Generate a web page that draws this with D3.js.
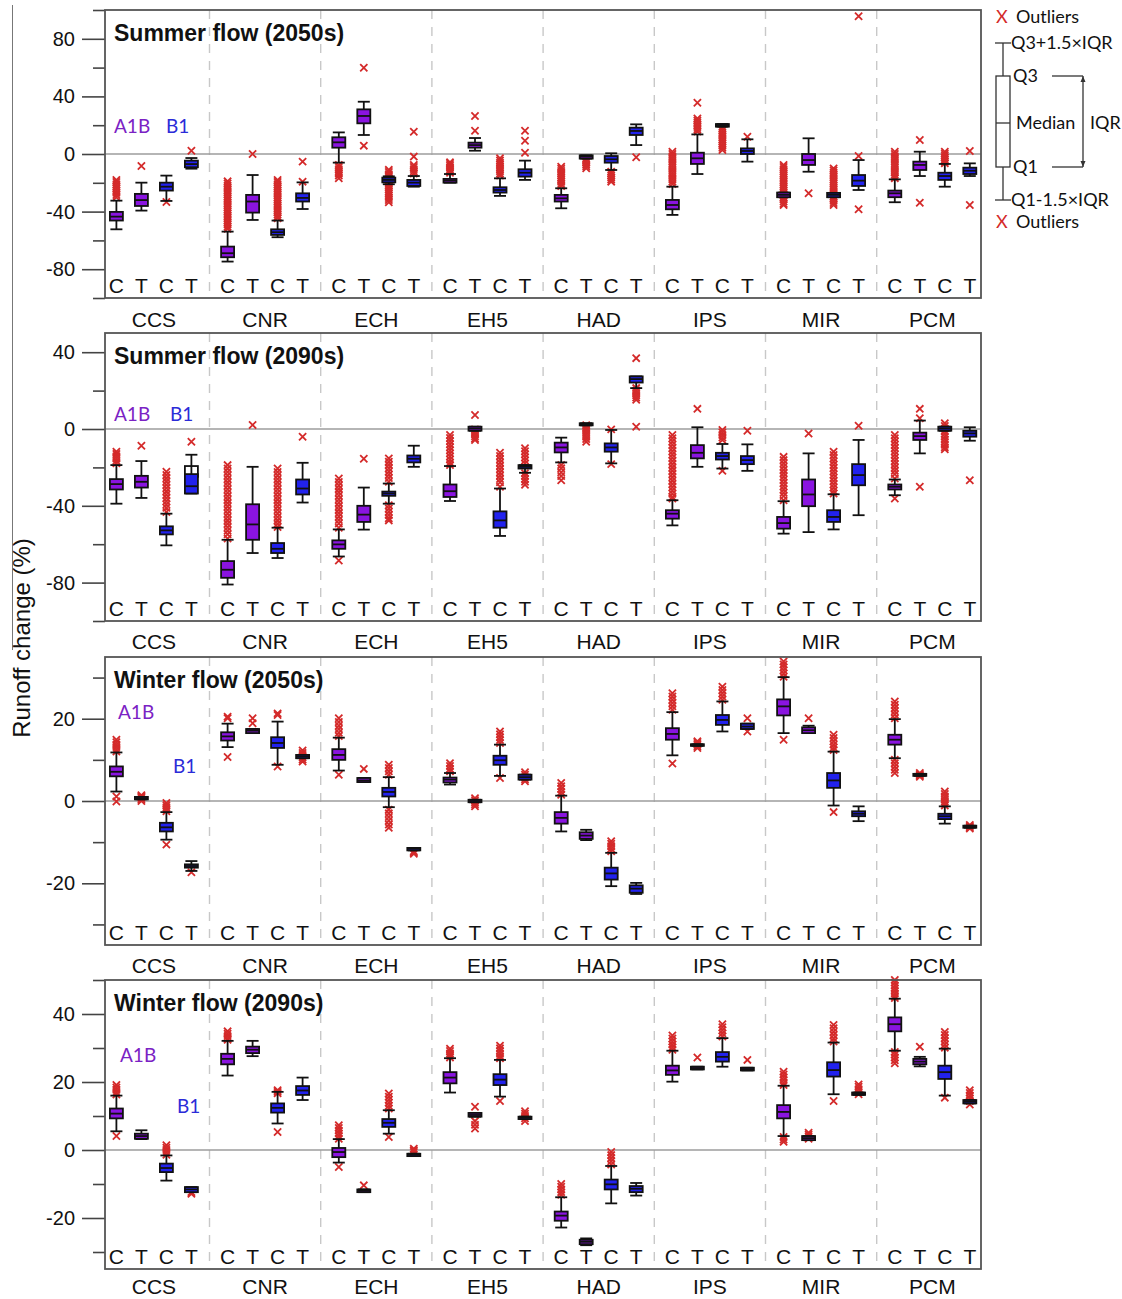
<!DOCTYPE html>
<html>
<head>
<meta charset="utf-8">
<script src="https://cdn.jsdelivr.net/npm/d3@7"></script>
<style>
  html, body { margin: 0; padding: 0; background: #fff; }
  svg { display: block; }
</style>
</head>
<body>
<svg id="chart" width="1122" height="1299"></svg>
<script>
// Climate models, slot letters (C / T) and emission scenario of each slot
const groups = ["CCS", "CNR", "ECH", "EH5", "HAD", "IPS", "MIR", "PCM"];
const slotLetters = ["C", "T", "C", "T"];
const slotScenario = ["A1B", "A1B", "B1", "B1"];

// Box statistics per slot: [lower whisker, Q1, median, Q3, upper whisker]
const summer2050Stats = [
  [-52.3,-46.2,-43.5,-40.2,-32.4], [-39.3,-36.1,-32.0,-27.7,-19.9], [-32.6,-25.4,-22.7,-19.9,-15.0], [-10.2,-9.2,-7.0,-4.6,-2.8],
  [-74.7,-71.7,-68.9,-64.3,-53.9], [-45.8,-40.7,-33.0,-28.4,-14.6], [-57.8,-56.2,-54.3,-52.3,-46.2], [-38.2,-33.0,-30.5,-27.3,-19.7],
  [-6.0,4.4,8.1,11.6,15.0], [13.2,21.3,26.4,31.0,36.3], [-21.0,-19.7,-18.0,-16.4,-15.5], [-22.7,-22.2,-19.9,-18.0,-15.3],
  [-19.9,-19.9,-18.5,-17.3,-13.9], [2.3,4.4,6.2,7.9,11.1], [-29.1,-26.8,-25.0,-23.1,-16.9], [-18.0,-15.7,-13.0,-10.6,-4.6],
  [-37.7,-33.0,-30.8,-28.4,-23.8], [-3.2,-3.2,-1.8,-0.9,-0.9], [-11.1,-6.0,-3.7,-1.4,0.5], [6.2,13.2,16.0,18.3,20.6],
  [-42.3,-38.4,-35.4,-31.9,-22.7], [-13.9,-6.9,-3.0,0.9,13.6], [19.0,19.0,19.9,20.8,20.8], [-5.3,0.0,2.1,3.9,10.2],
  [-30.0,-30.0,-28.4,-26.8,-26.8], [-12.3,-7.6,-4.2,0.0,10.9], [-30.0,-30.0,-28.4,-27.0,-27.0], [-25.0,-22.2,-18.5,-14.6,-4.2],
  [-33.5,-30.0,-27.3,-25.4,-17.6], [-15.3,-11.1,-7.6,-5.3,1.6], [-22.7,-18.0,-15.3,-13.0,-6.9], [-15.3,-13.9,-11.6,-9.5,-6.5]
];
const summer2050Outliers = [
  [-18,-19.5,-21,-22.5,-24,-25.5,-27,-28.5,-30], [-8.3], [-33.3], [2.3],
  [-19,-20.5,-22,-23.5,-25,-26.5,-28,-29.5,-31,-32.5,-34,-35.5,-37,-38.5,-40,-41.5,-43,-44.5,-46,-47.5,-49,-50.5,-52],
  [0],
  [-18,-19.5,-21,-22.5,-24,-25.5,-27,-28.5,-30,-31.5,-33,-34.5,-36,-37.5,-39,-40.5,-42,-43.5,-44.6],
  [-5.3,-19.2],
  [-7.6,-9,-10.5,-12,-13.5,-15,-16.9], [59.9,5.8],
  [-11,-12.5,-14,-15.5,-17,-18.5,-20,-21.5,-23,-24.5,-26,-27.5,-29,-30.5,-32,-33.5],
  [15.5,-1.8,-7.6,-9,-10.5,-12,-13.5],
  [-5.8,-7,-8.2,-9.4,-10.6,-11.8,-13], [26.4,16.2], [-3,-4.5,-6,-7.5,-9,-10.5,-12,-13.5,-15], [16.2,9.2,0.9],
  [-8.8,-10.3,-11.8,-13.3,-14.8,-16.3,-17.8,-19.3,-20.8,-22.3], [-3.7,-4.9,-6.1,-7.3,-8.5,-9.9], [-12.3,-13.6,-15,-16.4,-17.8,-19.2], [-2.3],
  [1.6,0,-1.6,-3.2,-4.8,-6.4,-8,-9.6,-11.2,-12.8,-14.4,-16,-17.6,-19.2,-20.8],
  [35.6,24.7,23.2,21.7,20.2,18.7,17.2,15.7],
  [17.8,16.3,14.8,13.3,11.8,10.3,8.8,7.3,5.8,4.3,2.8],
  [12],
  [-7.6,-9,-10.5,-12,-13.5,-15,-16.5,-18,-19.5,-21,-22.5,-24,-25.5,-27,-28.5,-30,-31.5,-33,-34.5,-35.4],
  [-27.3],
  [-10,-11.5,-13,-14.5,-16,-17.5,-19,-20.5,-22,-23.5,-25,-26.5,-28,-29.5,-31,-32.5,-34,-35.4],
  [95.7,-1.4,-38.4],
  [1.6,0,-1.6,-3.2,-4.8,-6.4,-8,-9.6,-11.2,-12.8,-14.4,-16,-16.9],
  [9.7,-33.8], [1.6,0.2,-1.2,-2.6,-4,-5.4,-6.5], [2.1,-35.4]
];

const summer2090Stats = [
  [-38.9,-31.5,-28.7,-26.1,-18.8], [-35.9,-30.5,-27.5,-24.4,-16.7], [-60.6,-54.9,-52.8,-50.7,-44.1], [-33.6,-33.6,-29.8,-23.5,-13.4],
  [-81.0,-77.5,-73.3,-68.8,-57.7], [-64.6,-57.7,-49.7,-39.2,-19.7], [-67.2,-64.6,-62.4,-59.4,-51.4], [-38.3,-34.1,-31.0,-26.3,-17.6],
  [-66.4,-62.4,-60.1,-58.0,-52.3], [-52.4,-48.4,-44.6,-40.0,-30.5], [-38.9,-34.8,-33.6,-32.6,-28.4], [-19.7,-17.4,-15.5,-13.8,-8.7],
  [-37.5,-35.4,-32.4,-28.9,-19.3], [-0.9,-0.9,0.2,1.2,1.2], [-55.7,-51.4,-47.6,-42.9,-31.0], [-22.8,-20.6,-19.7,-18.8,-18.8],
  [-17.4,-12.2,-9.6,-7.1,-4.5], [1.9,1.9,2.4,3.0,3.0], [-17.9,-11.8,-9.6,-7.5,-0.5], [21.3,24.2,26.0,27.4,27.4],
  [-50.2,-46.7,-44.1,-42.3,-37.1], [-19.7,-15.3,-12.4,-8.4,0.9], [-20.6,-15.9,-14.1,-12.4,-7.8], [-21.8,-18.3,-16.2,-14.1,-8.0],
  [-54.5,-51.9,-49.0,-45.8,-37.6], [-53.7,-40.2,-34.1,-26.3,-12.7], [-52.3,-48.4,-45.8,-42.3,-34.0], [-44.9,-29.3,-24.0,-18.3,-5.7],
  [-34.5,-31.5,-30.1,-28.9,-26.3], [-12.7,-5.7,-3.7,-1.9,4.4], [-0.9,-0.9,0.2,1.2,1.2], [-6.1,-4.0,-2.3,-0.9,0.9]
];
const summer2090Outliers = [
  [-11.8,-13,-14.2,-15.4,-16.6,-17.9], [-8.7],
  [-22.3,-24,-25.7,-27.4,-29.1,-30.8,-32.5,-34.2,-35.9,-37.6,-39.3,-41,-43.2],
  [-6.6],
  [-18.8,-20.6,-22.4,-24.2,-26,-27.8,-29.6,-31.4,-33.2,-35,-36.8,-38.6,-40.4,-42.2,-44,-45.8,-47.6,-49.4,-51.2,-53,-54.8,-57],
  [2.1],
  [-20.6,-22.4,-24.2,-26,-27.8,-29.6,-31.4,-33.2,-35,-36.8,-38.6,-40.4,-42.2,-44,-45.8,-47.6,-49.4,-51],
  [-4],
  [-25.8,-27.6,-29.4,-31.2,-33,-34.8,-36.6,-38.4,-40.2,-42,-43.8,-45.6,-47.4,-49.2,-51.4,-68.5],
  [-15.5],
  [-15.3,-17,-18.7,-20.4,-22.1,-23.8,-25.5,-27.5,-39.7,-41.4,-43.1,-44.8,-46.5,-47.6],
  [],
  [-3.1,-4.7,-6.3,-7.9,-9.5,-11.1,-12.7,-14.3,-15.9,-17.5,-18.8],
  [7.3,-0.2,-1.4,-2.6,-3.8,-5,-5.7],
  [-12.4,-14.1,-15.8,-17.5,-19.2,-20.9,-22.6,-24.3,-26,-27.7,-30.1],
  [-10,-11.6,-13.2,-14.8,-16.4,-18,-23,-24.5,-26,-27.5,-29],
  [-18.8,-20.5,-22.5,-24.5,-26.7], [2,0.8,-0.4,-1.6,-2.8,-4,-5.2,-6.6], [-0.2,-18.3], [36.9,21.3,20,18.8,17.6,16.4,15.2,1.2],
  [-3.1,-4.8,-6.5,-8.2,-9.9,-11.6,-13.3,-15,-16.7,-18.4,-20.1,-21.8,-23.5,-25.2,-26.9,-28.6,-30.3,-32,-33.7,-35.4,-36.2],
  [10.5], [-0.5,-1.8,-3.1,-4.4,-5.7,-21.8], [-0.9],
  [-14.5,-16.2,-17.9,-19.6,-21.3,-23,-24.7,-26.4,-28.1,-29.8,-31.5,-33.2,-34.9,-37.1],
  [-2.3],
  [-11.8,-13.5,-15.2,-16.9,-18.6,-20.3,-22,-23.7,-25.4,-27.1,-28.8,-30.5,-32.2,-33.6],
  [1.7],
  [-3.1,-4.8,-6.5,-8.2,-9.9,-11.6,-13.3,-15,-16.7,-18.4,-20.1,-21.8,-23.5,-25.8,-36.2],
  [10.5,5.6,-30.1], [3,1.6,0.2,-1.2,-2.6,-4,-5.4,-6.8,-8.2,-9.5,-10.6], [-26.7]
];
// Unfilled box drawn behind one slot: [slot index, lower edge, upper edge]
const summer2090Hollow = [[3, -24.9, -19.3]];

const winter2050Stats = [
  [2.3,6.0,7.1,8.4,11.8], [0.4,0.4,0.7,1.0,1.0], [-9.4,-7.4,-6.4,-5.3,-2.7], [-17.0,-16.2,-15.8,-15.4,-14.6],
  [13.1,14.7,15.7,16.7,18.8], [16.5,16.5,17.1,17.5,17.5], [8.8,12.9,14.1,15.5,19.3], [10.4,10.4,10.8,11.2,11.2],
  [7.4,10.0,11.2,12.6,15.4], [4.6,4.6,5.0,5.6,5.6], [-1.5,1.1,2.2,3.2,5.8], [-12.0,-12.0,-11.6,-11.4,-11.4],
  [4.0,4.5,5.2,5.7,6.8], [-0.3,-0.3,0.0,0.3,0.3], [6.1,8.8,9.9,11.0,13.7], [5.2,5.2,5.8,6.4,6.4],
  [-7.4,-5.5,-4.1,-2.7,1.3], [-9.5,-9.2,-8.4,-7.6,-7.0], [-20.7,-19.1,-17.6,-16.2,-12.6], [-22.6,-22.3,-21.3,-20.5,-19.9],
  [11.1,14.9,16.3,17.7,21.6], [13.4,13.4,13.6,13.8,13.8], [16.9,18.5,19.7,20.9,24.2], [17.5,17.5,18.1,18.8,18.8],
  [16.5,20.8,23.0,24.7,30.1], [16.5,16.5,17.2,17.9,18.3], [-1.1,3.2,5.0,6.8,12.0], [-4.9,-3.7,-3.1,-2.5,-1.3],
  [10.4,13.7,14.9,16.1,19.9], [6.1,6.1,6.4,6.6,6.6], [-5.5,-4.4,-3.7,-3.1,-1.3], [-6.5,-6.5,-6.3,-6.0,-6.0]
];
const winter2050Outliers = [
  [14.9,14.3,13.7,13.1,12.5,12,1.1,-0.1], [1.4,1.1,0.8,0.4,0], [-0.5,-1,-1.5,-2,-2.5,-10.6], [-17.3],
  [20.5,20.1,10.7], [20.1,18.9], [21.3,20.9,8.4], [12.3,11.7,11.2,10.6,10.1,9.6],
  [20.1,19.2,18.3,17.5,16.6,15.8,6.4], [7.8], [8.8,8,7.2,6.4,-2.1,-3,-3.9,-4.8,-5.7,-6.5], [-12.2,-12.5,-12.8],
  [9.2,8.5,7.8,7.2], [0.7,0.2,-0.3,-0.8,-1.3], [16.9,16.2,15.5,14.8,14.1,5.6], [7,6.4,5.8,5.3,4.8],
  [4.4,3.6,2.9,2.2,1.5], [], [-9.8,-10.4,-11,-11.6,-12.2], [],
  [26.2,25.4,24.6,23.8,23,22.2,9.1], [14.5,14.1,13.7,13.3,12.9], [27.8,27,26.2,25.4,24.6], [20.1,16.9],
  [33.9,33.2,32.5,31.8,31,30.2,14.9], [20.1], [16.1,15.3,14.5,13.7,13,12.4,-2.7], [],
  [24.2,23.4,22.6,21.8,21,20.1,10,9.2,8.4,7.6,6.8], [6.8,6.5,6.2,5.9], [2.3,1.7,1.1,0.5,-0.1,-0.6,-1.1], [-5.8,-6.1,-6.4,-6.7]
];

const winter2090Stats = [
  [5.5,9.3,10.7,12.2,16.0], [3.2,3.3,4.1,4.8,5.8], [-9.0,-6.5,-5.3,-4.0,-1.6], [-12.4,-12.4,-11.6,-10.9,-10.9],
  [21.9,25.2,26.8,28.3,32.1], [27.6,28.5,29.5,30.4,32.1], [7.8,11.0,12.4,13.7,17.1], [14.7,16.2,17.5,18.8,21.3],
  [-3.7,-2.1,-0.6,0.6,3.2], [-12.4,-12.4,-12.0,-11.6,-11.6], [4.8,6.8,8.0,9.1,11.7], [-1.8,-1.8,-1.4,-1.1,-1.1],
  [16.9,19.6,21.3,22.9,27.0], [9.8,9.8,10.3,10.9,10.9], [15.7,19.1,20.7,22.3,26.5], [9.1,9.1,9.5,9.8,9.8],
  [-22.8,-20.8,-19.3,-18.1,-13.9], [-28.0,-27.7,-27.0,-26.4,-26.0], [-15.7,-11.6,-10.1,-8.7,-4.7], [-13.4,-12.4,-11.4,-10.6,-9.7],
  [20.1,22.1,23.4,24.8,29.2], [23.7,23.7,24.1,24.5,24.5], [24.5,26.0,27.4,28.8,32.9], [23.4,23.4,23.8,24.2,24.2],
  [4.1,9.3,11.2,13.2,18.9], [2.9,2.9,3.5,4.1,4.1], [16.4,21.6,23.5,25.8,31.6], [16.2,16.2,16.6,16.9,16.9],
  [29.2,34.9,37.0,39.0,44.5], [24.6,25.2,26.0,26.8,27.4], [16.0,20.9,22.9,24.8,29.8], [13.7,13.7,14.2,14.7,14.7]
];
const winter2090Outliers = [
  [19.1,18.4,17.7,17,16.3,4.1], [], [1.4,0.7,0,-0.7,-1.4], [-12.4,-12.9],
  [34.9,34.2,33.5,32.8,32.4], [], [17.6,17.1,16.7,5.3], [],
  [7.3,6.5,5.7,4.9,4.1,3.3,-5], [-10.4], [16.6,15.7,14.8,13.9,13,12.2,3.8], [0.4,-0.1,-0.6],
  [29.8,29.1,28.4,27.8,27.2], [12.7,8.5,7.4,6.3], [30.7,29.9,29.1,28.3,27.6,27,14.4], [11.4,10.7,10,9.3,8.5],
  [-10,-10.8,-11.6,-12.4,-13.2], [], [-0.6,-1.5,-2.4,-3.3,-4.3], [],
  [33.7,32.8,31.9,31,30.2,29.5], [27.2], [37,36.1,35.2,34.3,33.4], [26.5],
  [23,22.2,21.4,20.6,19.8,19.1,3.8,3.1,2.4], [5.1,4.5,3.9,3.3], [36.8,35.8,34.8,33.8,32.8,31.9,14.4], [19.3,18.6,17.9,17.1,16.4],
  [50,49.2,48.4,47.6,46.8,46,45.3,44.7,28.8,28,27.2,26.4,25.5], [30.4], [34.7,33.8,32.9,32,31,30.1,15.4], [17.6,16.8,16,15.2,14.4,13.4]
];

// Axis ticks: labelled (long) and unlabelled (short)
const summer2050Ticks = [-80, -40, 0, 40, 80];
const summer2050MinorTicks = [-100, -60, -20, 20, 60, 100];
const summer2090Ticks = [-80, -40, 0, 40];
const summer2090MinorTicks = [-100, -60, -20, 20];
const winter2050Ticks = [-20, 0, 20];
const winter2050MinorTicks = [-30, -10, 10, 30];
const winter2090Ticks = [-20, 0, 20, 40];
const winter2090MinorTicks = [-30, -10, 10, 30, 50];

// ---------- drawing ----------
const svg = d3.select("#chart");
const FONT = "'Liberation Sans', Arial, sans-serif";
const SOFT = "Lato, 'Open Sans', sans-serif";
const fill = { A1B: "#8a14e0", B1: "#2222ee" };
const labelColor = { A1B: "#7b22c4", B1: "#2b2bd8" };
const outlierColor = "#d42a2a";

const frameLeft = 105, frameRight = 981;
const xGroup = d3.scaleBand().domain(groups).range([98.3, 987.9]);
const xSlot = d3.scalePoint().domain([0, 1, 2, 3]).range([-37.5, 37.5]);
const slotX = i => xGroup(groups[Math.floor(i / 4)]) + xGroup.bandwidth() / 2 + xSlot(i % 4);

const panels = [
  { title: "Summer flow (2050s)", stats: summer2050Stats, outliers: summer2050Outliers, hollow: [],
    domain: [-100, 100], ticks: summer2050Ticks, minor: summer2050MinorTicks, top: 10, bottom: 298, nameGap: 29,
    a1b: [114, 133], b1: [166, 133] },
  { title: "Summer flow (2090s)", stats: summer2090Stats, outliers: summer2090Outliers, hollow: summer2090Hollow,
    domain: [-100, 50], ticks: summer2090Ticks, minor: summer2090MinorTicks, top: 333, bottom: 621, nameGap: 28,
    a1b: [114, 421], b1: [170, 421] },
  { title: "Winter flow (2050s)", stats: winter2050Stats, outliers: winter2050Outliers, hollow: [],
    domain: [-35, 35], ticks: winter2050Ticks, minor: winter2050MinorTicks, top: 657, bottom: 945, nameGap: 28,
    a1b: [118, 719], b1: [173, 773] },
  { title: "Winter flow (2090s)", stats: winter2090Stats, outliers: winter2090Outliers, hollow: [],
    domain: [-35, 50], ticks: winter2090Ticks, minor: winter2090MinorTicks, top: 980, bottom: 1269, nameGap: 25,
    a1b: [120, 1062], b1: [177, 1113] }
];

const boxW = 13, capW = 12;
const xMark = "M-3.6,-3.6L3.6,3.6M-3.6,3.6L3.6,-3.6";

panels.forEach(p => {
  const y = d3.scaleLinear().domain(p.domain).range([p.bottom, p.top]);
  const g = svg.append("g");

  // dashed separators between models
  g.selectAll("line.sep").data(groups.slice(1)).join("line")
    .attr("x1", d => xGroup(d)).attr("x2", d => xGroup(d))
    .attr("y1", p.top).attr("y2", p.bottom)
    .attr("stroke", "#c8c8c8").attr("stroke-width", 1.4).attr("stroke-dasharray", "9,8");

  // zero reference line
  g.append("line").attr("x1", frameLeft).attr("x2", frameRight)
    .attr("y1", y(0)).attr("y2", y(0))
    .attr("stroke", "#9c9c9c").attr("stroke-width", 1.5);

  // y axis: short unlabelled ticks, then long labelled ones
  const minorAxis = d3.axisLeft(y).tickValues(p.minor).tickSize(12).tickFormat("");
  const majorAxis = d3.axisLeft(y).tickValues(p.ticks).tickSize(23).tickPadding(7).tickFormat(d => String(d));
  [minorAxis, majorAxis].forEach(ax => {
    const a = g.append("g").attr("transform", `translate(${frameLeft},0)`).call(ax);
    a.select(".domain").remove();
    a.selectAll(".tick line").attr("stroke", "#444").attr("stroke-width", 1.6);
    a.selectAll(".tick text").attr("fill", "#111").style("font-family", FONT).style("font-size", "20px");
  });

  // outliers
  p.outliers.forEach((vals, i) => {
    g.selectAll(null).data(vals).join("path")
      .attr("d", xMark)
      .attr("transform", v => `translate(${slotX(i)},${y(v)})`)
      .attr("fill", "none").attr("stroke", outlierColor).attr("stroke-width", 1.8);
  });

  // hollow boxes sitting behind a filled one
  g.selectAll("rect.hollow").data(p.hollow).join("rect")
    .attr("x", d => slotX(d[0]) - boxW / 2).attr("width", boxW)
    .attr("y", d => y(d[2])).attr("height", d => y(d[1]) - y(d[2]))
    .attr("fill", "#fff").attr("stroke", "#111").attr("stroke-width", 1.8);

  // boxes with whiskers
  const box = g.selectAll("g.box").data(p.stats).join("g")
    .attr("transform", (d, i) => `translate(${slotX(i)},0)`);
  box.append("line").attr("x1", 0).attr("x2", 0)
    .attr("y1", d => y(d[0])).attr("y2", d => y(d[1]))
    .attr("stroke", "#111").attr("stroke-width", 1.8);
  box.append("line").attr("x1", 0).attr("x2", 0)
    .attr("y1", d => y(d[3])).attr("y2", d => y(d[4]))
    .attr("stroke", "#111").attr("stroke-width", 1.8);
  [0, 4].forEach(k => {
    box.append("line").attr("x1", -capW / 2).attr("x2", capW / 2)
      .attr("y1", d => y(d[k])).attr("y2", d => y(d[k]))
      .attr("stroke", "#111").attr("stroke-width", 1.8);
  });
  box.append("rect")
    .attr("x", -boxW / 2).attr("width", boxW)
    .attr("y", d => y(d[3])).attr("height", d => Math.max(0.5, y(d[1]) - y(d[3])))
    .attr("fill", (d, i) => fill[slotScenario[i % 4]])
    .attr("stroke", "#111").attr("stroke-width", 1.8);
  box.append("line").attr("x1", -boxW / 2).attr("x2", boxW / 2)
    .attr("y1", d => y(d[2])).attr("y2", d => y(d[2]))
    .attr("stroke", "#111").attr("stroke-width", 1.8);

  // frame
  g.append("rect").attr("x", frameLeft).attr("y", p.top)
    .attr("width", frameRight - frameLeft).attr("height", p.bottom - p.top)
    .attr("fill", "none").attr("stroke", "#555").attr("stroke-width", 1.8);

  // C / T letters inside the bottom of the frame
  g.selectAll("text.slot").data(d3.range(groups.length * 4)).join("text")
    .attr("x", i => slotX(i)).attr("y", p.bottom - 5)
    .attr("text-anchor", "middle").attr("fill", "#111")
    .style("font-family", FONT).style("font-size", "21px")
    .text(i => slotLetters[i % 4]);

  // model names under the frame
  g.selectAll("text.model").data(groups).join("text")
    .attr("x", d => xGroup(d) + xGroup.bandwidth() / 2).attr("y", p.bottom + p.nameGap)
    .attr("text-anchor", "middle").attr("fill", "#111")
    .style("font-family", FONT).style("font-size", "21px")
    .text(d => d);

  // panel title
  g.append("text").attr("x", 114).attr("y", p.top + 31)
    .attr("fill", "#111").style("font-family", FONT).style("font-size", "23px").style("font-weight", "bold")
    .text(p.title);

  // scenario labels
  g.append("text").attr("x", p.a1b[0]).attr("y", p.a1b[1]).attr("fill", labelColor.A1B)
    .style("font-family", SOFT).style("font-size", "19px").text("A1B");
  g.append("text").attr("x", p.b1[0]).attr("y", p.b1[1]).attr("fill", labelColor.B1)
    .style("font-family", SOFT).style("font-size", "19px").text("B1");
});

// shared y-axis title and left rule
svg.append("line").attr("x1", 12.5).attr("x2", 12.5).attr("y1", 5).attr("y2", 650)
  .attr("stroke", "#777").attr("stroke-width", 1);
svg.append("text").attr("transform", "translate(30,638) rotate(-90)")
  .attr("text-anchor", "middle").attr("fill", "#111")
  .style("font-family", FONT).style("font-size", "24px")
  .text("Runoff change (%)");

// box-plot key
const key = svg.append("g").style("font-family", SOFT).style("font-size", "18px").attr("fill", "#111");
const keyText = (x, yc, str, color) => key.append("text").attr("x", x).attr("y", yc)
  .attr("dy", "0.35em").attr("fill", color || "#111").text(str);
keyText(996, 17, "X", outlierColor);
keyText(1016, 17, "Outliers");
keyText(996, 222, "X", outlierColor);
keyText(1016, 222, "Outliers");
keyText(1011, 43, "Q3+1.5×IQR");
keyText(1013, 76, "Q3");
keyText(1016, 123, "Median");
keyText(1013, 167, "Q1");
keyText(1011, 200, "Q1-1.5×IQR");
keyText(1090, 123, "IQR");
const keyLine = (x1, y1, x2, y2) => key.append("line")
  .attr("x1", x1).attr("y1", y1).attr("x2", x2).attr("y2", y2)
  .attr("stroke", "#333").attr("stroke-width", 1.3);
keyLine(1003, 43, 1003, 76);
keyLine(1003, 167, 1003, 200);
keyLine(995, 43, 1011, 43);
keyLine(995, 200, 1011, 200);
key.append("rect").attr("x", 996).attr("y", 76).attr("width", 14).attr("height", 91)
  .attr("fill", "#fff").attr("stroke", "#333").attr("stroke-width", 1.3);
keyLine(996, 123, 1010, 123);
keyLine(1052, 76, 1083, 76);
keyLine(1052, 167, 1083, 167);
keyLine(1083, 76, 1083, 167);
key.append("path").attr("d", "M1083,76L1080.5,82L1085.5,82Z M1083,167L1080.5,161L1085.5,161Z").attr("fill", "#333");
</script>
</body>
</html>
